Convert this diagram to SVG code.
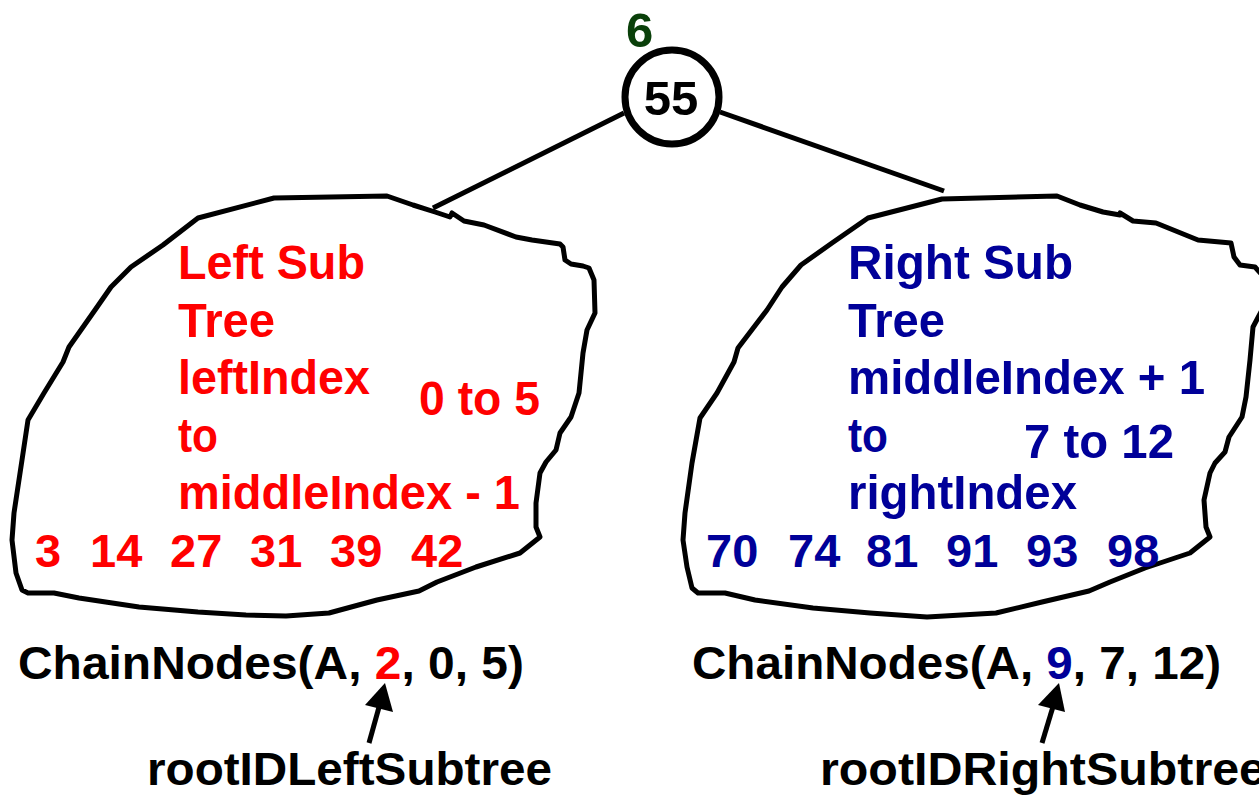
<svg xmlns="http://www.w3.org/2000/svg" width="1259" height="797" viewBox="0 0 1259 797">
<defs>
<style>
text{font-family:"Liberation Sans",Arial,sans-serif;font-weight:bold;font-size:47px}
.big{font-size:49px}
.red{fill:#ff0000}
.blue{fill:#000099}
.blk{fill:#000}
.blob{fill:none;stroke:#000;stroke-width:5;stroke-linejoin:round}
.edge{stroke:#000;stroke-width:5;fill:none}
</style>
</defs>
<rect width="1259" height="797" fill="#fff"/>

<g id="connectors">
<line class="edge" x1="624" y1="113" x2="433" y2="208"/>
<line class="edge" x1="720" y1="112" x2="944" y2="191"/>
<line class="edge" x1="369" y1="743" x2="381" y2="700"/>
<polygon points="385,683 365,705 393,712" fill="#000"/>
<line class="edge" x1="1042" y1="743" x2="1055" y2="700"/>
<polygon points="1059,683 1038,705 1065,712" fill="#000"/>
</g>

<g id="root">
<circle cx="672" cy="97" r="47" fill="#fff" stroke="#000" stroke-width="7"/>
<text x="671" y="115" text-anchor="middle" class="blk big">55</text>
<text x="626" y="47" class="big" fill="#0a400a">6</text>
</g>

<g id="left-subtree">
<path class="blob" d="M387,196 L274,198 L198,218 L163,245 L131,267 L111,287 L95,310 L69,347 L63,362 L44,393 L28,420 L22,460 L14,513 L12,540 L16,573 L22,590 L28,593 L54,593 L79,598 L139,607 L198,612 L246,615 L286,616 L329,613 L377,600 L419,591 L437,582 L476,567 L520,553 L540,537 L536,527 L536,503 L540,473 L546,462 L556,450 L560,433 L571,417 L579,393 L583,353 L587,330 L595,313 L594,280 L589,268 L583,266 L571,264 L565,260 L563,247 L560,244 L532,240 L516,237 L484,225 L464,221 L452,213 L450,217 L435,212 L413,205 Z"/>
<text class="red big" x="178" y="279" textLength="187" lengthAdjust="spacingAndGlyphs">Left Sub</text>
<text class="red big" x="178" y="337" textLength="97" lengthAdjust="spacingAndGlyphs">Tree</text>
<text class="red big" x="178" y="394" textLength="192" lengthAdjust="spacingAndGlyphs">leftIndex</text>
<text class="red big" x="178" y="452" textLength="40" lengthAdjust="spacingAndGlyphs">to</text>
<text class="red big" x="178" y="509" textLength="342" lengthAdjust="spacingAndGlyphs">middleIndex - 1</text>
<text class="red big" x="419" y="415" textLength="121" lengthAdjust="spacingAndGlyphs">0 to 5</text>
<text class="red" x="35" y="567">3</text>
<text class="red" x="90" y="567">14</text>
<text class="red" x="170" y="567">27</text>
<text class="red" x="250" y="567">31</text>
<text class="red" x="330" y="567">39</text>
<text class="red" x="411" y="567">42</text>
</g>

<g id="right-subtree">
<path class="blob" d="M1057,196 L942,199 L868,218 L832,243 L801,265 L782,287 L767,310 L738,348 L734,362 L717,393 L700,418 L692,463 L685,513 L683,540 L687,567 L692,588 L698,593 L725,593 L755,600 L813,608 L870,613 L927,617 L996,613 L1042,602 L1089,591 L1110,582 L1145,568 L1190,553 L1210,537 L1206,527 L1204,500 L1210,473 L1215,463 L1225,452 L1229,437 L1242,417 L1246,397 L1250,360 L1253,327 L1262,310 L1262,275 L1255,267 L1240,265 L1234,257 L1231,243 L1198,240 L1156,223 L1133,221 L1120,213 L1120,215 L1103,212 L1080,205 Z"/>
<text class="blue big" x="848" y="279" textLength="225" lengthAdjust="spacingAndGlyphs">Right Sub</text>
<text class="blue big" x="848" y="337" textLength="97" lengthAdjust="spacingAndGlyphs">Tree</text>
<text class="blue big" x="848" y="394" textLength="357" lengthAdjust="spacingAndGlyphs">middleIndex + 1</text>
<text class="blue big" x="848" y="452" textLength="40" lengthAdjust="spacingAndGlyphs">to</text>
<text class="blue big" x="848" y="509" textLength="229" lengthAdjust="spacingAndGlyphs">rightIndex</text>
<text class="blue big" x="1024" y="458" textLength="150" lengthAdjust="spacingAndGlyphs">7 to 12</text>
<text class="blue" x="706" y="567">70</text>
<text class="blue" x="788" y="567">74</text>
<text class="blue" x="866" y="567">81</text>
<text class="blue" x="946" y="567">91</text>
<text class="blue" x="1026" y="567">93</text>
<text class="blue" x="1107" y="567">98</text>
</g>

<g id="left-call">
<text x="18" y="679" class="blk" textLength="506" lengthAdjust="spacingAndGlyphs">ChainNodes(A, <tspan class="red">2</tspan>, 0, 5)</text>
</g>
<g id="left-label">
<text x="147" y="785" class="blk" textLength="405" lengthAdjust="spacingAndGlyphs">rootIDLeftSubtree</text>
</g>
<g id="right-call">
<text x="692" y="679" class="blk" textLength="529" lengthAdjust="spacingAndGlyphs">ChainNodes(A, <tspan class="blue">9</tspan>, 7, 12)</text>
</g>
<g id="right-label">
<text x="820" y="785" class="blk" textLength="446" lengthAdjust="spacingAndGlyphs">rootIDRightSubtree</text>
</g>
</svg>
